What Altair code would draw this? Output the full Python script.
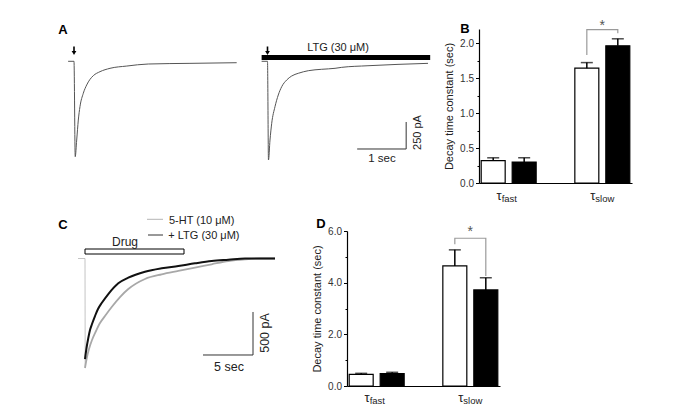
import altair as alt
import pandas as pd

FONT = "Liberation Sans"
W, H = 668, 399

# ---------- Panel A: evoked currents (time in s after the arrow, current in pA) ----------
a1_time = [-0.12, 0.0, 0.025, 0.055, 0.088, 0.122, 0.19, 0.259, 0.327, 0.394, 0.531, 0.735, 1.076, 1.516, 2.367, 3.32]
a1_curr = [0, 0, -883, -729, -544, -420, -296, -219, -167, -133, -96, -65, -44, -25, -19, -13]
a2_time = [-0.12, 0.0, 0.02, 0.051, 0.086, 0.153, 0.22, 0.29, 0.392, 0.494, 0.629, 0.833, 1.106, 1.378, 1.514, 2.051, 3.276]
a2_curr = [0, 0, -914, -729, -574, -420, -312, -235, -173, -136, -111, -87, -74, -65, -56, -41, -19]
a_ltg_period = [-0.12, 3.32]
a_scalebar = {"t0": 1.83, "dt": 1.0, "i0": -812, "di": 250}

# ---------- Panel C: 5-HT currents with / without LTG ----------
c_5ht_time = [0.0, 0.2, 0.4, 0.7, 1.1, 1.5, 2.0, 2.67, 3.5, 4.33, 6.0, 7.67, 9.33, 11.0, 12.67, 14.33, 16.0, 17.5, 19.0]
c_5ht_curr = [-1273, -1146, -1053, -948, -843, -750, -669, -564, -448, -355, -238, -184, -145, -107, -67, -29, -9, 0, 0]
c_ltg_time = [0.0, 0.15, 0.33, 0.5, 0.7, 1.0, 1.3, 1.67, 2.33, 3.33, 4.33, 6.0, 7.67, 9.33, 11.0, 12.67, 14.33, 16.0, 17.5, 19.0]
c_ltg_curr = [-1169, -1041, -925, -832, -762, -669, -587, -518, -413, -288, -223, -154, -114, -87, -56, -29, -14, 0, 0, 0]
c_onset_time = [-0.7, 0.0, 0.02]
c_onset_curr = [0, 0, -1273]
c_drug_period = [0.0, 9.9]
c_scalebar = {"t0": 11.8, "dt": 5.0, "i0": -1122, "di": 500}

# ---------- Panels B and D: decay time constants ----------
tau = ["fast", "fast", "slow", "slow"]
cond = ["Control", "LTG", "Control", "LTG"]
b_mean = [0.32, 0.30, 1.64, 1.96]
b_sem = [0.04, 0.06, 0.08, 0.10]
d_mean = [0.45, 0.48, 4.65, 3.72]
d_sem = [0.04, 0.05, 0.62, 0.47]
b_bracket = [1.83, 2.19, 2.19, 2.14]
d_bracket = [5.49, 5.72, 5.72, 4.26]
b_star = 2.24
d_star = 5.98
b_major = [0, 0.5, 1.0, 1.5, 2.0]
b_minor = [0.25, 0.75, 1.25, 1.75]
d_major = [0, 2, 4, 6]
d_minor = [1, 3, 5]


def lin(domain, rng):
    return alt.Scale(domain=domain, range=rng, zero=False, nice=False)


def one():
    return pd.DataFrame({"k": [0]})


def label(text, x, y, size=12, weight="normal", angle=0, align="center", color="#222"):
    return alt.Chart(one()).mark_text(
        text=text, fontSize=size, fontWeight=weight, angle=angle, align=align,
        baseline="middle", color=color, font=FONT
    ).encode(x=alt.value(x), y=alt.value(y))


def trace_layer(time, curr, sx, sy, color, width, interp="monotone"):
    df = pd.DataFrame({"t": time, "i": curr})
    return alt.Chart(df).mark_line(color=color, strokeWidth=width, interpolate=interp).encode(
        x=alt.X("t:Q", scale=sx, axis=None), y=alt.Y("i:Q", scale=sy, axis=None))


def scalebar(sb, sx, sy):
    df = pd.DataFrame({"t0": [sb["t0"]], "t1": [sb["t0"] + sb["dt"]],
                       "i0": [sb["i0"]], "i1": [sb["i0"] + sb["di"]]})
    h = alt.Chart(df).mark_rule(color="#333", strokeWidth=1).encode(
        x=alt.X("t0:Q", scale=sx, axis=None), x2="t1:Q", y=alt.Y("i0:Q", scale=sy, axis=None))
    v = alt.Chart(df).mark_rule(color="#333", strokeWidth=1).encode(
        x=alt.X("t1:Q", scale=sx, axis=None), y=alt.Y("i0:Q", scale=sy, axis=None), y2="i1:Q")
    return [h, v]


def arrow(sx):
    df = pd.DataFrame({"t": [0.0]})
    shaft = alt.Chart(df).mark_rule(color="black", strokeWidth=1.6).encode(
        x=alt.X("t:Q", scale=sx, axis=None), y=alt.value(38.5), y2=alt.value(44))
    head = alt.Chart(df).mark_point(shape="triangle-down", filled=True, color="black", size=22, opacity=1).encode(
        x=alt.X("t:Q", scale=sx, axis=None), y=alt.value(45))
    return [shaft, head]


# ----- Panel A -----
sA1x = lin([0, 1], [66, 115])
sA2x = lin([0, 1], [259.5, 308.5])
sAy = lin([-250, 0], [80.3, 53.3])

panel_a1 = alt.layer(
    trace_layer(a1_time, a1_curr, sA1x, sAy, "#555", 1),
    *arrow(sA1x),
    label("A", 55, 21.5, size=13, weight="bold", color="black"),
)

ltg_df = pd.DataFrame({"t0": [a_ltg_period[0]], "t1": [a_ltg_period[1]]})
ltg_bar = alt.Chart(ltg_df).mark_rect(color="black").encode(
    x=alt.X("t0:Q", scale=sA2x, axis=None), x2="t1:Q", y=alt.value(47), y2=alt.value(52))

panel_a2 = alt.layer(
    trace_layer(a2_time, a2_curr, sA2x, sAy, "#555", 1),
    ltg_bar,
    *arrow(sA2x),
    *scalebar(a_scalebar, sA2x, sAy),
    label("LTG (30 μM)", 330, 39.5, size=11),
    label("1 sec", 374, 150.5, size=11.5),
    label("250 pA", 409.5, 124.5, size=11, angle=270),
)

# ----- Panel C -----
sCx = lin([0, 5], [77, 127])
sCy = lin([-500, 0], [293.5, 250.5])
drug_df = pd.DataFrame({"t0": [c_drug_period[0]], "t1": [c_drug_period[1]]})
drug_bar = alt.Chart(drug_df).mark_rect(fill="white", stroke="black", strokeWidth=1).encode(
    x=alt.X("t0:Q", scale=sCx, axis=None), x2="t1:Q", y=alt.value(241), y2=alt.value(246))


def legend_line(x1, x2, y, color, width):
    return alt.Chart(one()).mark_rule(color=color, strokeWidth=width).encode(
        x=alt.value(x1), x2=alt.value(x2), y=alt.value(y))


panel_c = alt.layer(
    trace_layer(c_onset_time, c_onset_curr, sCx, sCy, "#b5b5b5", 0.8, "linear"),
    trace_layer(c_5ht_time, c_5ht_curr, sCx, sCy, "#a8a8a8", 1.8),
    trace_layer(c_ltg_time, c_ltg_curr, sCx, sCy, "#111", 2),
    drug_bar,
    *scalebar(c_scalebar, sCx, sCy),
    label("Drug", 117, 233.7, size=12),
    legend_line(139, 155, 211.3, "#b5b5b5", 1),
    legend_line(140, 155, 227, "#333", 1),
    label("5-HT (10 μM)", 161, 212.5, size=11, align="left"),
    label("+ LTG (30 μM)", 160.3, 228, size=11, align="left"),
    label("5 sec", 221, 359, size=12.5),
    label("500 pA", 256.5, 325, size=12.5, angle=270),
    label("C", 55, 216.5, size=13, weight="bold", color="black"),
)


# ----- Panels B and D -----
def bar_panel(mean, sem, bracket, star_v, x_range, y_dom, y_range, major, minor,
              x_axis_off, y_axis_off, tau_y, letter, letter_xy):
    df = pd.DataFrame({"tau": tau, "cond": cond, "mean": mean,
                       "top": [m + s for m, s in zip(mean, sem)]})
    xs = alt.Scale(domain=["fast", "slow"], range=x_range, paddingInner=0.366, paddingOuter=0)
    offs = alt.Scale(domain=["Control", "LTG"], paddingInner=0.226, paddingOuter=0.071)
    ys = lin(y_dom, y_range)
    x_enc = alt.X("tau:N", scale=xs, axis=alt.Axis(
        orient="bottom", offset=x_axis_off, ticks=False, labels=False, title=None,
        domainColor="black", domainWidth=1.2))
    y_enc = alt.Y("mean:Q", scale=ys, axis=alt.Axis(
        orient="left", offset=y_axis_off, values=major, format=".1f",
        title="Decay time constant (sec)", tickSize=3.5, tickWidth=1, labelPadding=2,
        titlePadding=5, domainColor="black", domainWidth=1.2))
    bars = alt.Chart(df).mark_bar(stroke="black", strokeWidth=1.2).encode(
        x=x_enc, xOffset=alt.XOffset("cond:N", scale=offs), y=y_enc,
        fill=alt.Fill("cond:N", scale=alt.Scale(domain=["Control", "LTG"], range=["white", "black"]), legend=None))
    err = alt.Chart(df).mark_rule(color="black", strokeWidth=1.5).encode(
        x="tau:N", xOffset="cond:N", y="mean:Q", y2="top:Q")
    cap = alt.Chart(df).mark_tick(color="black", size=12, thickness=1.5).encode(
        x="tau:N", xOffset="cond:N", y="top:Q")
    bdf = pd.DataFrame({"tau": ["slow"] * 4, "cond": ["Control", "Control", "LTG", "LTG"],
                        "v": bracket, "k": [0, 1, 2, 3]})
    br = alt.Chart(bdf).mark_line(color="#9a9a9a", strokeWidth=1.2).encode(
        x="tau:N", xOffset="cond:N", y="v:Q", order="k:Q")
    sdf = pd.DataFrame({"tau": ["slow"], "v": [star_v]})
    star = alt.Chart(sdf).mark_text(text="*", fontSize=14, color="#555", baseline="middle").encode(
        x="tau:N", y="v:Q")
    ldf = pd.DataFrame({"tau": ["fast", "slow"], "sub": ["fast", "slow"]})
    t1 = alt.Chart(ldf).mark_text(text="τ", fontSize=13, align="right", dx=-7, baseline="middle",
                                  color="#222").encode(x="tau:N", y=alt.value(tau_y))
    t2 = alt.Chart(ldf).mark_text(fontSize=9.5, align="left", dx=-7, baseline="middle",
                                  color="#222").encode(x="tau:N", y=alt.value(tau_y + 3.2), text="sub:N")
    main = alt.layer(bars, err, cap, br, star, t1, t2,
                     label(letter, letter_xy[0], letter_xy[1], size=13, weight="bold", color="black"))
    minor_layer = alt.Chart(pd.DataFrame({"v": [0.0]})).mark_point(opacity=0).encode(
        y=alt.Y("v:Q", scale=lin(y_dom, y_range), axis=alt.Axis(
            orient="left", offset=y_axis_off, values=minor, tickSize=2, tickWidth=1,
            labels=False, domain=False, title=None)))
    return main, minor_layer


panel_b, minor_b = bar_panel(b_mean, b_sem, b_bracket, b_star, [471, 624], [0, 2.2], [175, 21],
                             b_major, b_minor, 175 - H, -471, 187.5, "B", (457, 21))
panel_d, minor_d = bar_panel(d_mean, d_sem, d_bracket, d_star, [339, 492], [0, 6], [378, 223],
                             d_major, d_minor, 378 - H, -339, 390, "D", (313, 216))

chart = alt.layer(
    panel_a1, panel_a2, panel_c, panel_b, minor_b, panel_d, minor_d
).resolve_scale(
    x="independent", y="independent", xOffset="independent"
).resolve_axis(
    x="independent", y="independent"
).properties(
    width=W, height=H, padding=0, autosize=alt.AutoSizeParams(type="none")
).configure_view(
    stroke=None
).configure_axis(
    grid=False, labelFont=FONT, titleFont=FONT, labelColor="#333", titleColor="#222",
    tickColor="black", labelFontSize=10, titleFontSize=11, titleFontWeight="normal"
).configure_text(font=FONT)

chart.save("out.html", embed_options={"renderer": "svg", "actions": False})
